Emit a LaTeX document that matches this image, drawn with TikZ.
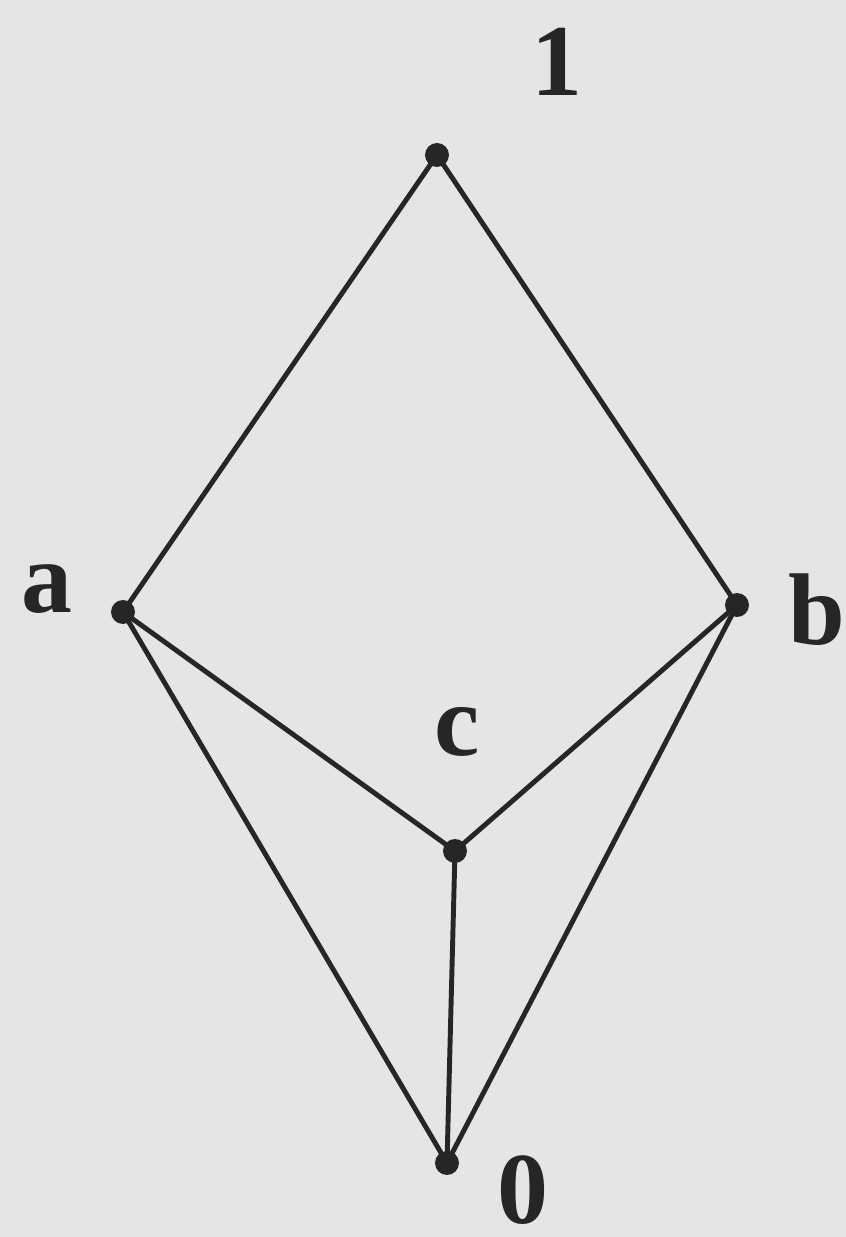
\documentclass[tikz,border=0pt]{standalone}
\usepackage{fontspec}
\setmainfont{Liberation Serif}
\usepackage{tikz}
\colorlet{paper}{black!10}
\colorlet{ink}{black!85}
\tikzset{hasse/edge/.style={ink, line width=1.4pt},
  hasse/dot/.style={circle, fill=ink, inner sep=0pt, minimum size=0.24cm},
  hasse/lab/.style={ink, inner sep=0pt, font=\fontsize{29}{35}\selectfont\bfseries}}

\begin{document}
\begin{tikzpicture}
  \fill[paper] (0,0) rectangle (8.46,12.37);
  \useasboundingbox (0,0) rectangle (8.46,12.37);
  % vertices
  \node[hasse/dot] (top) at (4.37,10.82) {};
  \node[hasse/dot] (a) at (1.23,6.25) {};
  \node[hasse/dot] (b) at (7.37,6.32) {};
  \node[hasse/dot] (c) at (4.55,3.86) {};
  \node[hasse/dot] (bot) at (4.47,0.74) {};
  % edges
  \draw[hasse/edge] (top.center) -- (a.center) -- (bot.center) -- (b.center) -- (top.center);
  \draw[hasse/edge] (a.center) -- (c.center) -- (b.center);
  \draw[hasse/edge] (c.center) -- (bot.center);
  % labels
  \node[hasse/lab] (ltop) at (5.57,11.75) {1};
  \node[hasse/lab] (la) at (0.47,6.48) {a};
  \node[hasse/lab] (lb) at (8.17,6.27) {b};
  \node[hasse/lab] (lc) at (4.57,5.05) {c};
  \node[hasse/lab] (lbot) at (5.23,0.47) {0};
\end{tikzpicture}
\end{document}
